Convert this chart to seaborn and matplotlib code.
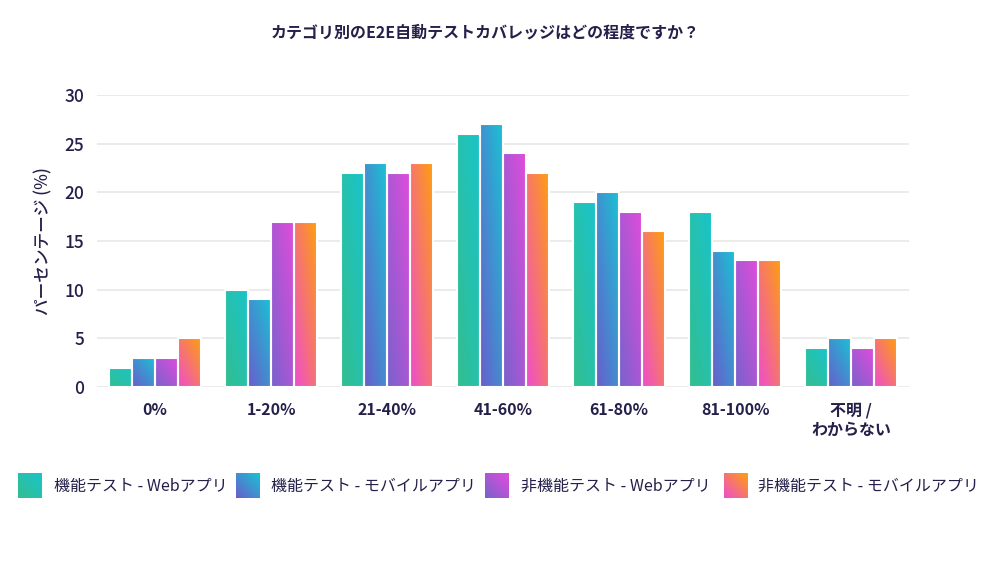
import numpy as np
import pandas as pd
import matplotlib
matplotlib.use("Agg")
import matplotlib.pyplot as plt
import matplotlib.colors as mcolors
import seaborn as sns

categories = ["0%", "1-20%", "21-40%", "41-60%", "61-80%", "81-100%", "不明 /\nわからない"]
series = ["機能テスト - Webアプリ", "機能テスト - モバイルアプリ", "非機能テスト - Webアプリ", "非機能テスト - モバイルアプリ"]
func_web = [2, 10, 22, 26, 19, 18, 4]
func_mobile = [3, 9, 23, 27, 20, 14, 5]
nonfunc_web = [3, 17, 22, 24, 18, 13, 4]
nonfunc_mobile = [5, 17, 23, 22, 16, 13, 5]
values = [func_web, func_mobile, nonfunc_web, nonfunc_mobile]
yticks = [0, 5, 10, 15, 20, 25, 30]

# gradient (top-right, bottom-left)
grad_colors = [("#18c4cc", "#34be8e"), ("#18c4d4", "#6a5ccc"),
               ("#e24cdc", "#7862cc"), ("#ffa00a", "#ee4cd0")]
text_color = "#24204a"

rows = []
for s, vals in zip(series, values):
    for c, v in zip(categories, vals):
        rows.append({"category": c, "series": s, "value": v})
df = pd.DataFrame(rows)

sns.set_theme(style="white")
plt.rcParams['font.family'] = ['Noto Sans CJK JP', 'DejaVu Sans']

fig = plt.figure(figsize=(9.99, 5.61), dpi=100)
ax = fig.add_axes([97 / 999, 1 - 387 / 561, (909 - 97) / 999, (387 - 95) / 561])

sns.barplot(data=df, x="category", y="value", hue="series", order=categories,
            hue_order=series, width=0.8, legend=False, ax=ax, saturation=1,
            edgecolor="white", linewidth=1.5)


def grad_img(c_top, c_bot, n=64):
    a = np.array(mcolors.to_rgb(c_top))
    b = np.array(mcolors.to_rgb(c_bot))
    u, v = np.meshgrid(np.linspace(0, 1, n), np.linspace(0, 1, n))
    t = (u + v) / 2
    return b[None, None, :] * (1 - t[..., None]) + a[None, None, :] * t[..., None]


for i, cont in enumerate(ax.containers):
    img = grad_img(*grad_colors[i])
    for p in cont.patches:
        x0, y0 = p.get_x(), p.get_y()
        w, h = p.get_width(), p.get_height()
        p.set_facecolor("none")
        p.set_zorder(3)
        im = ax.imshow(img, extent=[x0, x0 + w, y0, y0 + h], origin="lower",
                       aspect="auto", zorder=2, interpolation="bilinear")
        im.set_clip_path(p)

ax.set_xlim(-0.5, len(categories) - 0.5)
ax.set_ylim(0, 30)
ax.set_yticks(yticks)
ax.set_yticklabels([str(t) for t in yticks])
ax.yaxis.grid(True, color="#e8e8e8", linewidth=1.2)
ax.set_axisbelow(True)
for s in ax.spines.values():
    s.set_visible(False)
ax.tick_params(axis="y", length=0, pad=9, labelsize=12.5, labelcolor=text_color)
ax.tick_params(axis="x", length=0, pad=11, labelsize=11.5, labelcolor=text_color)
for lab in ax.get_xticklabels():
    lab.set_fontweight("bold")
    lab.set_linespacing(1.3)
for lab in ax.get_yticklabels():
    lab.set_fontweight("medium")
ax.set_xlabel("")
ax.set_ylabel("パーセンテージ (%)", fontsize=12, color=text_color, labelpad=18,
              fontweight="medium")
ax.yaxis.set_label_coords(-45 / 812, 0.5)

fig.text(485 / 999, 1 - 33 / 561, "カテゴリ別のE2E自動テストカバレッジはどの程度ですか？",
         ha="center", va="center", fontsize=11.5, fontweight="bold", color=text_color)

# legend
leg_sq = [18, 236, 485, 724]
leg_tx = [54, 271, 521, 758]
for i, s in enumerate(series):
    lax = fig.add_axes([leg_sq[i] / 999, 1 - 498 / 561, 24 / 999, 25 / 561])
    lax.imshow(grad_img(*grad_colors[i]), origin="lower", aspect="auto",
               extent=[0, 1, 0, 1], interpolation="bilinear")
    lax.set_axis_off()
    fig.text(leg_tx[i] / 999, 1 - 486 / 561, s, ha="left", va="center",
             fontsize=11.5, color=text_color)

fig.savefig("out.png", dpi=100, facecolor="white")
